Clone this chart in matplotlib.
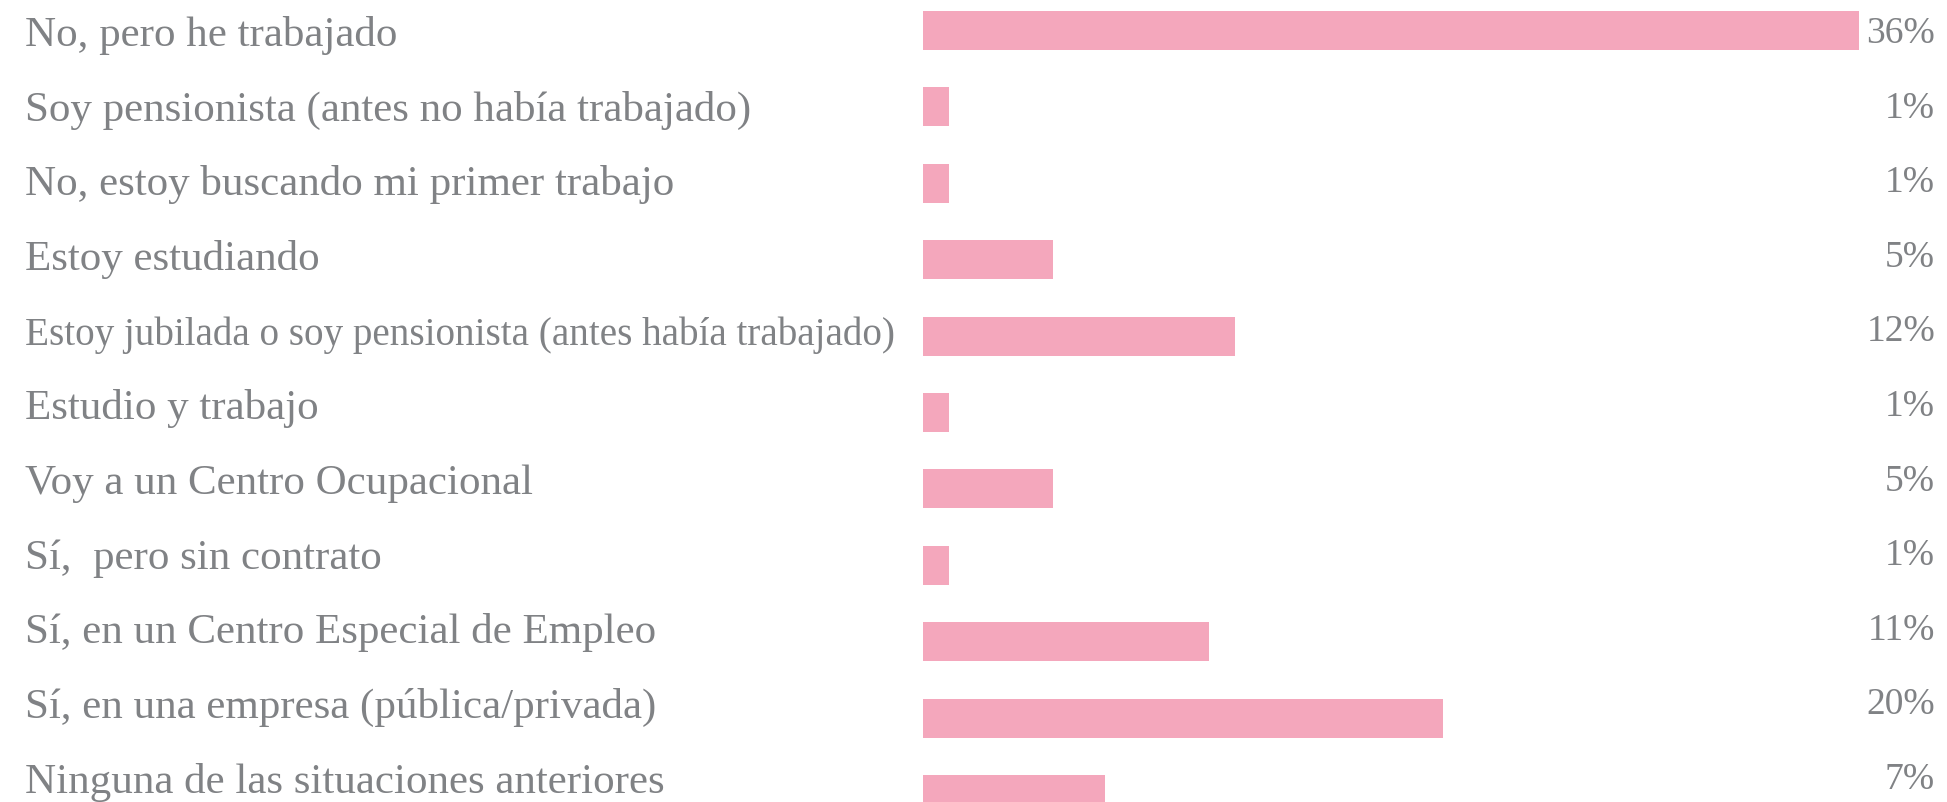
import matplotlib
matplotlib.use("Agg")
import matplotlib.pyplot as plt
from matplotlib.transforms import blended_transform_factory

# ── data ────────────────────────────────────────────────────────────
categories = [
    "No, pero he trabajado",
    "Soy pensionista (antes no había trabajado)",
    "No, estoy buscando mi primer trabajo",
    "Estoy estudiando",
    "Estoy jubilada o soy pensionista (antes había trabajado)",
    "Estudio y trabajo",
    "Voy a un Centro Ocupacional",
    "Sí,  pero sin contrato",
    "Sí, en un Centro Especial de Empleo",
    "Sí, en una empresa (pública/privada)",
    "Ninguna de las situaciones anteriores",
]
percent = [36, 1, 1, 5, 12, 1, 5, 1, 11, 20, 7]

BAR_COLOR = "#F4A7BC"
TEXT_COLOR = "#808285"
FONT = "Liberation Serif"

W, H = 1947, 802
fig = plt.figure(figsize=(W / 100, H / 100), dpi=100)
fig.patch.set_facecolor("white")

# axes start where the bars start; 26 px per percentage point
x0 = 923
ax = fig.add_axes([x0 / W, 0, (W - x0) / W, 1])
ax.set_xlim(0, (W - x0) / 26.0)
row_px, first_px = 76.4, 30.5
ax.set_ylim((H - first_px) / row_px, -first_px / row_px)
ax.axis("off")

y = list(range(len(categories)))
ax.barh(y, percent, height=0.51, color=BAR_COLOR, linewidth=0)


# the text rows run on a slightly tighter pitch than the bars
def px_to_row(px):
    return (px - first_px) / row_px


trans = blended_transform_factory(fig.transFigure, ax.transData)
renderer = fig.canvas.get_renderer()
max_w = 867  # px available for the labels
for i, (cat, val) in enumerate(zip(categories, percent)):
    t = ax.text(25 / W, px_to_row(46 + 74.65 * i), cat, transform=trans,
                ha="left", va="baseline", fontsize=31, color=TEXT_COLOR,
                family=FONT)
    w = t.get_window_extent(renderer).width
    if w > max_w:
        t.set_fontsize(31 * max_w / w)
    ax.text(1935 / W, px_to_row(43 + 74.6 * i), f"{val}%", transform=trans,
            ha="right", va="baseline", fontsize=27, color=TEXT_COLOR,
            family=FONT)

fig.savefig("out.png", dpi=100, facecolor="white")
